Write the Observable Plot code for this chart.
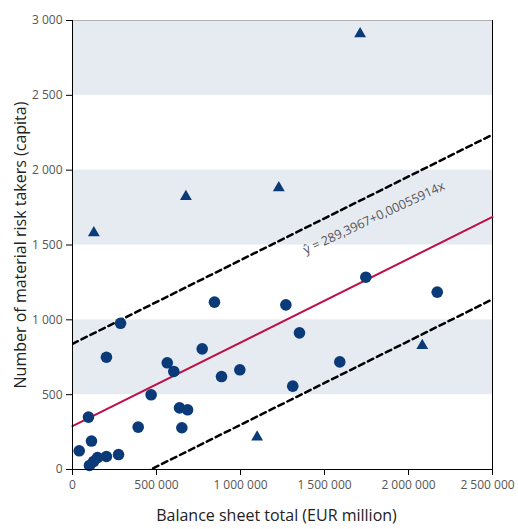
<!DOCTYPE html>
<html>
<head>
<meta charset="utf-8">
<script src="https://cdn.jsdelivr.net/npm/d3@7"></script>
<script src="https://cdn.jsdelivr.net/npm/@observablehq/plot@0.6"></script>
<style>
  html, body { margin: 0; padding: 0; background: #fff; }
  #chart svg { display: block; }
</style>
</head>
<body>
<div id="chart"></div>
<script>
// ---- data (x: balance sheet total, EUR million; y: material risk takers) ----
const circleX = [40000, 95000, 113000, 101000, 125000, 149000, 202000, 274000, 202000, 286000, 391000, 468000, 564000, 603000, 637000, 685000, 651000, 772000, 887000, 996000, 845000, 1270000, 1351000, 1591000, 1311000, 1746000, 2171000];
const circleY = [125, 350, 190, 27, 53, 80, 87, 100, 750, 977, 283, 499, 713, 655, 412, 399, 279, 806, 621, 666, 1118, 1100, 913, 719, 557, 1285, 1185];
const triangleX = [127000, 675000, 1228000, 1712000, 1099000, 2082000];
const triangleY = [1581, 1824, 1882, 2911, 216, 828];

const intercept = 289.3967;
const slope = 0.00055914;
const bandOffset = 550;
const lineXs = [0, 2500000];

const bandLow = [500, 1500, 2500];
const bandHigh = [1000, 2000, 3000];

const xTicks = [0, 500000, 1000000, 1500000, 2000000, 2500000];
const yTicks = [0, 500, 1000, 1500, 2000, 2500, 3000];

const xLabel = "Balance sheet total (EUR million)";
const yLabel = "Number of material risk takers (capita)";
const equation = [{x: 1795000, y: 1680, text: "ŷ = 289,3967+0,00055914x"}];

// ---- derived tables ----
const circles = circleX.map((x, i) => ({x, y: circleY[i]}));
const triangles = triangleX.map((x, i) => ({x, y: triangleY[i]}));
const bands = bandLow.map((lo, i) => ({lo, hi: bandHigh[i]}));
const fit = lineXs.map(x => ({x, y: intercept + slope * x}));
const upper = lineXs.map(x => ({x, y: intercept + slope * x + bandOffset}));
const lower = lineXs.map(x => ({x, y: intercept + slope * x - bandOffset}));

const fmt = d => d3.format(",")(d).replace(/,/g, " ");
const lastX = xTicks[xTicks.length - 1];

const navy = "#0a3a78";
const red = "#c00d46";

const chart = Plot.plot({
  width: 518,
  height: 529,
  marginLeft: 72,
  marginRight: 26,
  marginTop: 20,
  marginBottom: 60,
  style: {fontFamily: "'Open Sans', 'Noto Sans', sans-serif", fontSize: "12px", color: "#555", background: "#fff"},
  x: {domain: [0, 2500000], label: null},
  y: {domain: [0, 3000], label: null},
  marks: [
    Plot.rect(bands, {x1: 0, x2: 2500000, y1: "lo", y2: "hi", fill: "#e6ebf2"}),
    Plot.ruleY([3000], {stroke: "#b0b0b0", strokeWidth: 1}),
    Plot.ruleX([2500000], {stroke: "#000", strokeWidth: 1}),
    Plot.line(upper, {x: "x", y: "y", stroke: "#000", strokeWidth: 2.5, strokeDasharray: "6,4", clip: true}),
    Plot.line(lower, {x: "x", y: "y", stroke: "#000", strokeWidth: 2.5, strokeDasharray: "6,4", clip: true}),
    Plot.line(fit, {x: "x", y: "y", stroke: red, strokeWidth: 2}),
    Plot.dot(circles, {x: "x", y: "y", r: 5.8, fill: navy, symbol: "circle"}),
    Plot.dot(triangles, {x: "x", y: "y", r: 4.4, fill: navy, symbol: "triangle"}),
    Plot.text(equation, {x: "x", y: "y", text: "text", rotate: -25, fontSize: 12.5, fill: "#555"}),
    Plot.axisX({ticks: xTicks, tickFormat: d => d === lastX ? "" : fmt(d), tickSize: 6, tickPadding: 5, label: null, stroke: "#000"}),
    Plot.axisX({ticks: [lastX], tickFormat: fmt, tickSize: 0, tickPadding: 11, dx: -5, label: null}),
    Plot.axisY({ticks: yTicks, tickFormat: fmt, tickSize: 6, tickPadding: 4, label: null, stroke: "#000"}),
    Plot.ruleX([0], {stroke: "#000", strokeWidth: 1}),
    Plot.ruleY([0], {stroke: "#000", strokeWidth: 1}),
    Plot.text([xLabel], {frameAnchor: "bottom", dy: 51, dx: -6, fontSize: 16, fill: "#222", textAnchor: "middle"}),
    Plot.text([yLabel], {frameAnchor: "left", dx: -52, rotate: -90, fontSize: 16, fill: "#222", textAnchor: "middle"})
  ]
});
document.getElementById("chart").appendChild(chart);
</script>
</body>
</html>
